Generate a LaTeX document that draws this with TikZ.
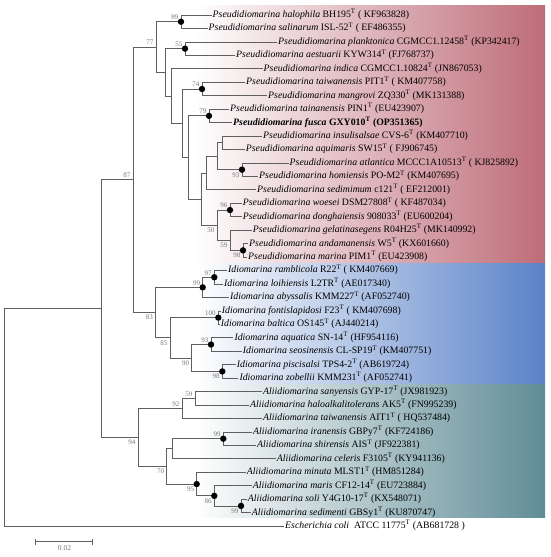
\documentclass[tikz,border=0pt]{standalone}
\usepackage{fontspec}
\setmainfont{Liberation Serif}
\begin{document}
\definecolor{pinkR}{RGB}{190,108,120}
\definecolor{blueR}{RGB}{90,130,200}
\definecolor{tealR}{RGB}{96,140,150}
\definecolor{brc}{RGB}{95,95,95}
\definecolor{bsc}{RGB}{120,120,120}
\newcommand\spn[1]{\textit{#1}}
\newcommand\tsup{\textsuperscript{T}}
\begin{tikzpicture}[x=1pt,y=-1pt,
  br/.style={draw=brc,line width=0.8pt},
  leaf/.style={anchor=west,inner xsep=1pt,inner ysep=0pt,text height=7pt,text depth=2.2pt,font=\fontsize{9.8}{11}\selectfont},
  dotn/.style={circle,fill=black,inner sep=0pt,minimum size=6.4pt},
  bsa/.style={anchor=south east,inner sep=0pt,xshift=-2.5pt,yshift=2pt,text=bsc,font=\fontsize{7}{8}\selectfont},
  bsb/.style={anchor=north east,inner sep=0pt,xshift=-2.5pt,yshift=-2.5pt,text=bsc,font=\fontsize{7}{8}\selectfont}]
\useasboundingbox (0,0) rectangle (550,557);
% background bands
\shade[left color=white,right color=pinkR] (195,5) rectangle (545,263.5);
\shade[left color=white,right color=blueR] (195,263.5) rectangle (545,384);
\shade[left color=white,right color=tealR] (195,384) rectangle (545,517.5);
% leaves
\node[leaf] (l1) at (211.5,15.0) {\spn{Pseudidiomarina halophila} BH195\tsup{} ( KF963828)};
\node[leaf] (l2) at (207.5,28.45) {\spn{Pseudidiomarina salinarum} ISL-52\tsup{} ( EF486355)};
\node[leaf] (l3) at (277,41.9) {\spn{Pseudidiomarina planktonica} CGMCC1.12458\tsup{} (KP342417)};
\node[leaf] (l4) at (235,55.35) {\spn{Pseudidiomarina aestuarii} KYW314\tsup{} (FJ768737)};
\node[leaf] (l5) at (262.5,68.8) {\spn{Pseudidiomarina indica} CGMCC1.10824\tsup{} (JN867053)};
\node[leaf] (l6) at (245,82.25) {\spn{Pseudidiomarina taiwanensis} PIT1\tsup{} ( KM407758)};
\node[leaf] (l7) at (267,95.7) {\spn{Pseudidiomarina mangrovi} ZQ330\tsup{} (MK131388)};
\node[leaf] (l8) at (229,109.15) {\spn{Pseudidiomarina tainanensis} PIN1\tsup{} (EU423907)};
\node[leaf] (l9) at (232,122.6) {\textbf{\spn{Pseudidiomarina fusca} GXY010\tsup{} (OP351365)}};
\node[leaf] (l10) at (262,136.05) {\spn{Pseudidiomarina insulisalsae} CVS-6\tsup{} (KM407710)};
\node[leaf] (l11) at (244.7,149.5) {\spn{Pseudidiomarina aquimaris} SW15\tsup{} ( FJ906745)};
\node[leaf] (l12) at (288.5,162.95) {\spn{Pseudidiomarina atlantica} MCCC1A10513\tsup{} ( KJ825892)};
\node[leaf] (l13) at (258,176.4) {\spn{Pseudidiomarina homiensis} PO-M2\tsup{} (KM407695)};
\node[leaf] (l14) at (256,189.85) {\spn{Pseudidiomarina sedimimum} c121\tsup{} ( EF212001)};
\node[leaf] (l15) at (241.7,203.3) {\spn{Pseudidiomarina woesei} DSM27808\tsup{} ( KF487034)};
\node[leaf] (l16) at (241.7,216.75) {\spn{Pseudidiomarina donghaiensis} 908033\tsup{} (EU600204)};
\node[leaf] (l17) at (251.7,230.2) {\spn{Pseudidiomarina gelatinasegens} R04H25\tsup{} (MK140992)};
\node[leaf] (l18) at (248,243.65) {\spn{Pseudidiomarina andamanensis} W5\tsup{} (KX601660)};
\node[leaf] (l19) at (247,257.1) {\spn{Pseudidiomarina marina} PIM1\tsup{} (EU423908)};
\node[leaf] (l20) at (227,270.55) {\spn{Idiomarina ramblicola} R22\tsup{} ( KM407669)};
\node[leaf] (l21) at (223,284.0) {\spn{Idiomarina loihiensis} L2TR\tsup{} (AE017340)};
\node[leaf] (l22) at (229,297.45) {\spn{Idiomarina abyssalis} KMM227\tsup{} (AF052740)};
\node[leaf] (l23) at (220.7,310.9) {\spn{Idiomarina fontislapidosi} F23\tsup{} ( KM407698)};
\node[leaf] (l24) at (219.7,324.35) {\spn{Idiomarina baltica} OS145\tsup{} (AJ440214)};
\node[leaf] (l25) at (233.3,337.8) {\spn{Idiomarina aquatica} SN-14\tsup{} (HF954116)};
\node[leaf] (l26) at (241.7,351.25) {\spn{Idiomarina seosinensis} CL-SP19\tsup{} (KM407751)};
\node[leaf] (l27) at (235.7,364.7) {\spn{Idiomarina piscisalsi} TPS4-2\tsup{} (AB619724)};
\node[leaf] (l28) at (238.3,378.15) {\spn{Idiomarina zobellii} KMM231\tsup{} (AF052741)};
\node[leaf] (l29) at (262,391.6) {\spn{Aliidiomarina sanyensis} GYP-17\tsup{} (JX981923)};
\node[leaf] (l30) at (249,405.05) {\spn{Aliidiomarina haloalkalitolerans} AK5\tsup{} (FN995239)};
\node[leaf] (l31) at (262,418.5) {\spn{Aliidiomarina taiwanensis} AIT1\tsup{} ( HQ537484)};
\node[leaf] (l32) at (252,431.95) {\spn{Aliidiomarina iranensis} GBPy7\tsup{} (KF724186)};
\node[leaf] (l33) at (256,445.4) {\spn{Aliidiomarina shirensis} AIS\tsup{} (JF922381)};
\node[leaf] (l34) at (275.7,458.85) {\spn{Aliidiomarina celeris} F3105\tsup{} (KY941136)};
\node[leaf] (l35) at (245.7,472.3) {\spn{Aliidiomarina minuta} MLST1\tsup{} (HM851284)};
\node[leaf] (l36) at (251.7,485.75) {\spn{Aliidiomarina maris} CF12-14\tsup{} (EU723884)};
\node[leaf] (l37) at (246.7,499.2) {\spn{Aliidiomarina soli} Y4G10-17\tsup{} (KX548071)};
\node[leaf] (l38) at (250.7,512.65) {\spn{Aliidiomarina sedimenti} GBSy1\tsup{} (KU870747)};
\node[leaf] (l39) at (284,526.1) {\spn{Escherichia coli}\ \ ATCC 11775\tsup{} (AB681728 )};
% internal nodes
\coordinate (n89) at (181,21.725);
\coordinate (n55) at (185,48.625);
\coordinate (n74) at (202,88.975);
\coordinate (n79) at (209,115.875);
\coordinate (nIA) at (222,142.775);
\coordinate (n93p) at (242,169.675);
\coordinate (nX1) at (217,156.225);
\coordinate (nX2) at (206,173.04);
\coordinate (n96) at (230,210.025);
\coordinate (n98p) at (243,250.375);
\coordinate (n59p) at (230,240.29);
\coordinate (n50) at (217,225.16);
\coordinate (nX3) at (201,199.1);
\coordinate (nX5) at (188,157.49);
\coordinate (nX6) at (182,123.23);
\coordinate (nX8) at (171,96.02);
\coordinate (nX7) at (165,72.32);
\coordinate (n77) at (156,47.02);
\coordinate (n97) at (214.3,277.275);
\coordinate (n99i) at (202.7,287.36);
\coordinate (n100) at (218.3,317.625);
\coordinate (n93i) at (211,344.525);
\coordinate (n98i) at (222.3,371.425);
\coordinate (n90) at (191.7,357.975);
\coordinate (n85) at (170,337.8);
\coordinate (n83) at (155.5,312.58);
\coordinate (n87) at (133,179.8);
\coordinate (n59a) at (195,398.325);
\coordinate (n92) at (182,408.41);
\coordinate (n99r) at (223.3,438.675);
\coordinate (nC) at (172.7,448.76);
\coordinate (n99s) at (241,505.925);
\coordinate (n86) at (214.3,495.84);
\coordinate (n95) at (196.7,484.07);
\coordinate (n70) at (166.7,466.415);
\coordinate (n94) at (138,437.41);
\coordinate (nA) at (101,308.6);
\coordinate (nR) at (4,417.35);
% branches
\draw[br] (n89) |- (l1.west) (n89) |- (l2.west);
\draw[br] (n55) |- (l3.west) (n55) |- (l4.west);
\draw[br] (n74) |- (l6.west) (n74) |- (l7.west);
\draw[br] (n79) |- (l8.west) (n79) |- (l9.west);
\draw[br] (nIA) |- (l10.west) (nIA) |- (l11.west);
\draw[br] (n93p) |- (l12.west) (n93p) |- (l13.west);
\draw[br] (nX1) |- (nIA) (nX1) |- (n93p);
\draw[br] (nX2) |- (nX1) (nX2) |- (l14.west);
\draw[br] (n96) |- (l15.west) (n96) |- (l16.west);
\draw[br] (n98p) |- (l18.west) (n98p) |- (l19.west);
\draw[br] (n59p) |- (l17.west) (n59p) |- (n98p);
\draw[br] (n50) |- (n96) (n50) |- (n59p);
\draw[br] (nX3) |- (nX2) (nX3) |- (n50);
\draw[br] (nX5) |- (n79) (nX5) |- (nX3);
\draw[br] (nX6) |- (n74) (nX6) |- (nX5);
\draw[br] (nX8) |- (l5.west) (nX8) |- (nX6);
\draw[br] (nX7) |- (n55) (nX7) |- (nX8);
\draw[br] (n77) |- (n89) (n77) |- (nX7);
\draw[br] (n97) |- (l20.west) (n97) |- (l21.west);
\draw[br] (n99i) |- (n97) (n99i) |- (l22.west);
\draw[br] (n100) |- (l23.west) (n100) |- (l24.west);
\draw[br] (n93i) |- (l25.west) (n93i) |- (l26.west);
\draw[br] (n98i) |- (l27.west) (n98i) |- (l28.west);
\draw[br] (n90) |- (n93i) (n90) |- (n98i);
\draw[br] (n85) |- (n100) (n85) |- (n90);
\draw[br] (n83) |- (n99i) (n83) |- (n85);
\draw[br] (n87) |- (n77) (n87) |- (n83);
\draw[br] (n59a) |- (l29.west) (n59a) |- (l30.west);
\draw[br] (n92) |- (n59a) (n92) |- (l31.west);
\draw[br] (n99r) |- (l32.west) (n99r) |- (l33.west);
\draw[br] (nC) |- (n99r) (nC) |- (l34.west);
\draw[br] (n99s) |- (l37.west) (n99s) |- (l38.west);
\draw[br] (n86) |- (l36.west) (n86) |- (n99s);
\draw[br] (n95) |- (l35.west) (n95) |- (n86);
\draw[br] (n70) |- (nC) (n70) |- (n95);
\draw[br] (n94) |- (n92) (n94) |- (n70);
\draw[br] (nA) |- (n87) (nA) |- (n94);
\draw[br] (nR) |- (nA) (nR) |- (l39.west);
% dots
\foreach \n in {n89,n55,n74,n79,n93p,n96,n98p,n97,n99i,n100,n93i,n98i,n99r,n95,n86,n99s}
  \node[dotn] (d\n) at (\n) {};
% bootstrap values
\node[bsa] (b89) at (n89) {89};
\node[bsa] (b77) at (n77) {77};
\node[bsa] (b55) at (n55) {55};
\node[bsa] (b74) at (n74) {74};
\node[bsa] (b79) at (n79) {79};
\node[bsb] (b93p) at (n93p) {93};
\node[bsa] (b96) at (n96) {96};
\node[bsb] (b50) at (n50) {50};
\node[bsb] (b59p) at (n59p) {59};
\node[bsb] (b98p) at (n98p) {98};
\node[bsa] (b87) at (n87) {87};
\node[bsa] (b97) at (n97) {97};
\node[bsa] (b99i) at (n99i) {99};
\node[bsa] (b100) at (n100) {100};
\node[bsb] (b83) at (n83) {83};
\node[bsb] (b85) at (n85) {85};
\node[bsa] (b93i) at (n93i) {93};
\node[bsb] (b90) at (n90) {90};
\node[bsb] (b98i) at (n98i) {98};
\node[bsa] (b59a) at (n59a) {59};
\node[bsa] (b92) at (n92) {92};
\node[bsb] (b94) at (n94) {94};
\node[bsa] (b99r) at (n99r) {99};
\node[bsb] (b70) at (n70) {70};
\node[bsb] (b95) at (n95) {95};
\node[bsb] (b86) at (n86) {86};
\node[bsb] (b99s) at (n99s) {99};
% scale bar
\coordinate (sb1) at (35,541.7);
\coordinate (sb2) at (92.7,541.7);
\draw[br] (sb1) -- (sb2);
\draw[br] ([yshift=3pt]sb1) -- ([yshift=-3pt]sb1);
\draw[br] ([yshift=3pt]sb2) -- ([yshift=-3pt]sb2);
\node[text=bsc,font=\fontsize{7.5}{8}\selectfont,inner sep=0pt] (sbl) at (64.5,548.5) {0.02};
\end{tikzpicture}
\end{document}
